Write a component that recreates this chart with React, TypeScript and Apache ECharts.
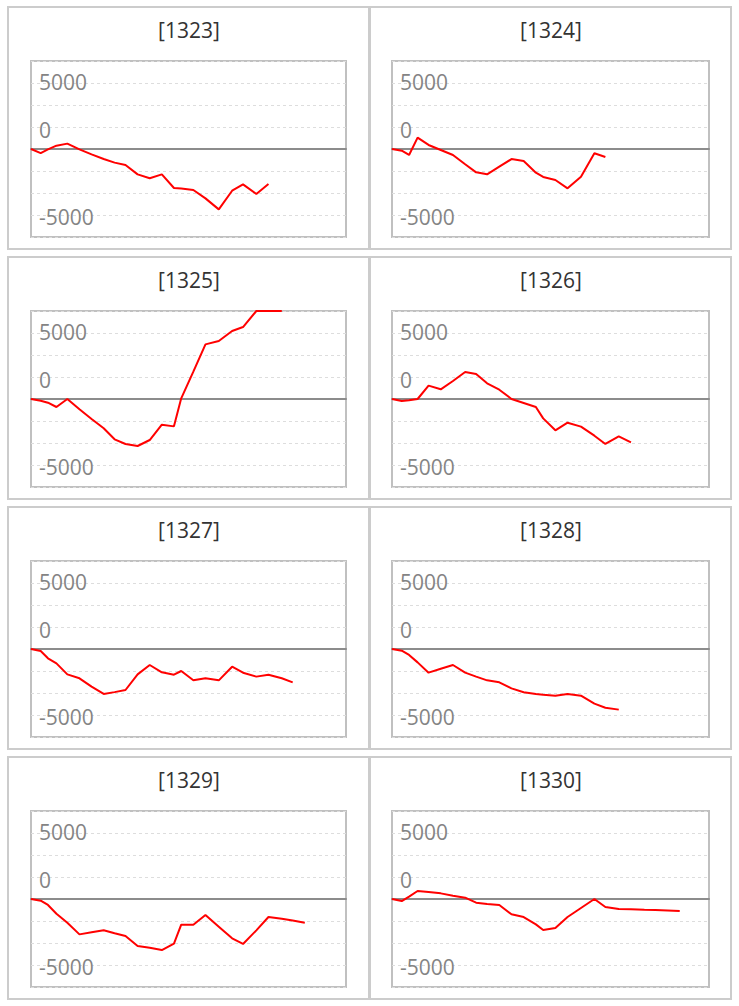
import React, { useEffect, useRef } from "react";
import * as echarts from "echarts";

// shared x positions (days)
const X = [0, 0.8, 1.4, 2.1, 3.0, 4.0, 5.0, 6.0, 6.9, 7.8, 8.8, 9.8, 10.8, 11.8, 12.4, 13.4, 14.4, 15.5, 16.6, 17.5, 18.6, 19.6, 20.7, 21.6, 22.6, 23.6];

const titles = ["[1323]", "[1324]", "[1325]", "[1326]", "[1327]", "[1328]", "[1329]", "[1330]"];

const s1323 = [0, -460, -50, 380, 610, -40, -610, -1140, -1550, -1820, -2880, -3330, -2880, -4430, -4500, -4660, -5610, -6860, -4740, -4020, -5110, -3980];
const s1324 = [0, -190, -680, 1290, 460, -110, -680, -1740, -2650, -2880, -2010, -1140, -1360, -2690, -3180, -3520, -4470, -3140, -490, -910];
const s1325 = [0, -190, -420, -910, 0, -1170, -2270, -3330, -4580, -5110, -5340, -4660, -2920, -3110, 80, 3110, 6210, 6590, 7730, 8180, 10000, 10000, 10000];
const s1326 = [0, -230, -150, 0, 1520, 1100, 2050, 3070, 2840, 1780, 1060, 0, -450, -910, -2200, -3560, -2690, -3140, -4170, -5110, -4240, -4920];
const s1327 = [0, -230, -1060, -1630, -2880, -3330, -4280, -5110, -4900, -4660, -2880, -1820, -2650, -2920, -2500, -3560, -3330, -3560, -2010, -2690, -3140, -2920, -3330, -3790];
const s1328 = [0, -190, -680, -1520, -2690, -2240, -1820, -2690, -3140, -3560, -3790, -4470, -4920, -5110, -5200, -5300, -5110, -5300, -6210, -6670, -6890];
const s1329 = [0, -190, -680, -1670, -2690, -4020, -3790, -3560, -3900, -4210, -5340, -5530, -5800, -5080, -2920, -2920, -1820, -3140, -4470, -5110, -3560, -2050, -2250, -2450, -2690];
const s1330 = [0, -230, 270, 910, 800, 640, 380, 150, -420, -570, -680, -1740, -2050, -2880, -3520, -3300, -2050, -1020, 0, -910, -1140, -1170, -1220, -1250, -1300, -1360];

const seriesValues = [s1323, s1324, s1325, s1326, s1327, s1328, s1329, s1330];

// y-axis tick labels (value position -> text)
const tickValues = [7500, 2500, -7500];
const tickLabels = ["5000", "0", "-5000"];
const tickStyles = ["t0", "t1", "t2"];

const Y_MIN = -10000;
const Y_MAX = 10000;
const Y_INTERVAL = 2500;
const X_MAX = 26;

export default function App() {
  const ref = useRef<HTMLDivElement>(null);

  useEffect(() => {
    if (!ref.current) return;
    const chart = echarts.init(ref.current, null, { renderer: "svg" });

    const rowTops = [7, 257, 507, 757];
    const panelLeft = [8, 370];
    const panelW = 361;
    const panelH = 242;
    const gridLeft = [31, 392];
    const gridW = [315, 317];

    const labelBase = {
      color: "#848484",
      fontSize: 21,
      fontFamily: "Open Sans",
    };

    const grids: any[] = [];
    const xAxes: any[] = [];
    const yAxes: any[] = [];
    const series: any[] = [];
    const graphics: any[] = [];

    seriesValues.forEach((vals, i) => {
      const col = i % 2;
      const row = Math.floor(i / 2);
      const top = rowTops[row];
      graphics.push({
        type: "rect",
        shape: { x: panelLeft[col], y: top, width: panelW, height: panelH },
        style: { fill: "none", stroke: "#cccccc", lineWidth: 2 },
        silent: true,
      });
      graphics.push({
        type: "text",
        x: panelLeft[col] + panelW / 2 + 0.5,
        y: top + 22.5,
        style: {
          text: titles[i],
          font: '21px "Open Sans"',
          fill: "#333333",
          align: "center",
          verticalAlign: "middle",
        },
        silent: true,
      });
      grids.push({
        left: gridLeft[col],
        top: top + 54,
        width: gridW[col],
        height: 176,
        show: true,
        borderColor: "#c0c0c0",
        borderWidth: 2,
        backgroundColor: "transparent",
      });
      xAxes.push({
        type: "value",
        gridIndex: i,
        min: 0,
        max: X_MAX,
        axisLine: { show: true, onZero: true, lineStyle: { color: "#8c8c8c", width: 2 } },
        axisTick: { show: false },
        axisLabel: { show: false },
        splitLine: { show: false },
      });
      yAxes.push({
        type: "value",
        gridIndex: i,
        min: Y_MIN,
        max: Y_MAX,
        interval: Y_INTERVAL,
        axisLine: { show: false },
        axisTick: { show: false },
        splitLine: { show: true, lineStyle: { color: "#dddddd", width: 1, type: [3, 3] } },
        axisLabel: {
          inside: true,
          margin: 8,
          ...labelBase,
          showMinLabel: true,
          showMaxLabel: true,
          formatter: (v: number) => {
            const k = tickValues.indexOf(v);
            return k >= 0 ? `{${tickStyles[k]}|${tickLabels[k]}}` : "";
          },
          rich: {
            t0: { ...labelBase, padding: [0, 0, 2, 0] },
            t1: { ...labelBase, padding: [6, 0, 0, 0] },
            t2: { ...labelBase, padding: [4, 0, 0, 0] },
          },
        },
      });
      series.push({
        type: "line",
        xAxisIndex: i,
        yAxisIndex: i,
        data: vals.map((v, j) => [X[j], v]),
        showSymbol: false,
        symbol: "none",
        lineStyle: { color: "#ff0000", width: 2 },
        clip: true,
        z: 3,
      });
    });

    chart.setOption({
      animation: false,
      backgroundColor: "#ffffff",
      grid: grids,
      xAxis: xAxes,
      yAxis: yAxes,
      series,
      graphic: graphics,
    });

    return () => {
      chart.dispose();
    };
  }, []);

  return (
    <div
      ref={ref}
      style={{ position: "absolute", left: 0, top: 0, width: 739, height: 1006 }}
    />
  );
}
